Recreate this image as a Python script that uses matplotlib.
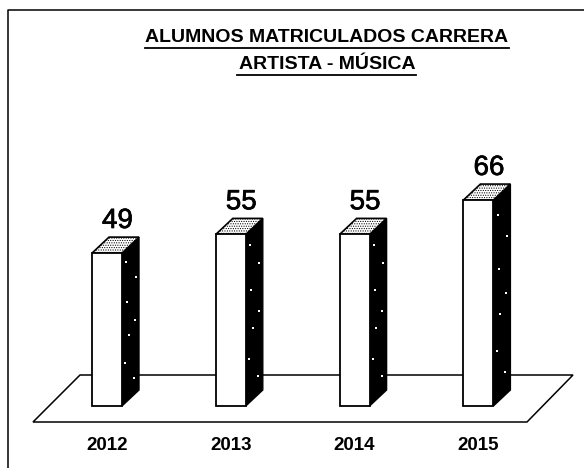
import matplotlib
matplotlib.use('Agg')
from matplotlib import pyplot as plt
from matplotlib.patches import Polygon
import matplotlib.patheffects as pe

years = ['2012', '2013', '2014', '2015']
alumnos = [49, 55, 55, 66]

title_1 = 'ALUMNOS MATRICULADOS CARRERA'
title_2 = 'ARTISTA - MÚSICA'

W, H = 584, 468
PX_X = 123.8   # px per category
PX_Y = 3.12    # px per student
X0, Y0 = 107, 406   # px of first category / base line


def to_x(px):
    return (px - X0) / PX_X


def to_y(px):
    return (Y0 - px) / PX_Y


plt.rcParams['font.family'] = ['Liberation Sans', 'DejaVu Sans']
plt.rcParams['hatch.linewidth'] = 0.5

fig = plt.figure(figsize=(W / 100, H / 100), dpi=100)
ax = fig.add_axes([0, 0, 1, 1])
ax.set_xlim(to_x(0), to_x(W))
ax.set_ylim(to_y(H), to_y(0))
ax.axis('off')

dx = 17 / PX_X    # depth of the fake 3d
dy = 16 / PX_Y
half = 15 / PX_X

# scanned frame, only top and left survive
ax.plot([to_x(W), to_x(8), to_x(8)], [to_y(10), to_y(10), to_y(H)], color='k', lw=1.1)

# floor
floor = [(33, 422), (527, 422), (573, 375), (80, 375)]
ax.add_patch(Polygon([(to_x(a), to_y(b)) for a, b in floor], fc='white', ec='k', lw=1.1, zorder=1))

ax.bar(range(len(years)), alumnos, width=2 * half, color='white', edgecolor='k', linewidth=1.3, zorder=3)

# white scan specks on the black sides, as fraction of side width / bar height
specks = [(0.2, 0.22), (0.75, 0.5), (0.3, 0.62), (0.8, 0.78), (0.25, 0.88), (0.7, 0.12), (0.4, 0.4)]

for i, v in enumerate(alumnos):
    l, r = i - half, i + half
    ax.add_patch(Polygon([(r, 0), (r + dx, dy), (r + dx, v + dy), (r, v)],
                         fc='k', ec='k', lw=1, zorder=2))
    sx = [r + dx * a for a, b in specks]
    sy = [v * b + dy * 0.6 for a, b in specks]
    ax.scatter(sx, sy, s=3, marker='s', color='white', linewidths=0, zorder=2.5)
    ax.add_patch(Polygon([(l, v), (r, v), (r + dx, v + dy), (l + dx, v + dy)],
                         fc='white', ec='k', lw=1.2, hatch='.......', zorder=2))
    ax.text(i + dx / 2 + 2 / PX_X, v + dy + 1, str(v), ha='center', va='bottom', fontsize=20, color='k', zorder=4,
            path_effects=[pe.withStroke(linewidth=0.5, foreground='k')])
    ax.text(i, to_y(446), years[i], ha='center', va='center', fontsize=13.5, fontweight='bold')

ax.text(to_x(327), to_y(37.5), title_1, ha='center', va='center', fontsize=14, fontweight='bold')
ax.plot([to_x(145), to_x(509)], [to_y(48)] * 2, color='k', lw=1.3)
ax.text(to_x(327), to_y(65), title_2, ha='center', va='center', fontsize=14, fontweight='bold')
ax.plot([to_x(237), to_x(416)], [to_y(75)] * 2, color='k', lw=1.3)

fig.savefig('out.png', dpi=100, facecolor='white')
